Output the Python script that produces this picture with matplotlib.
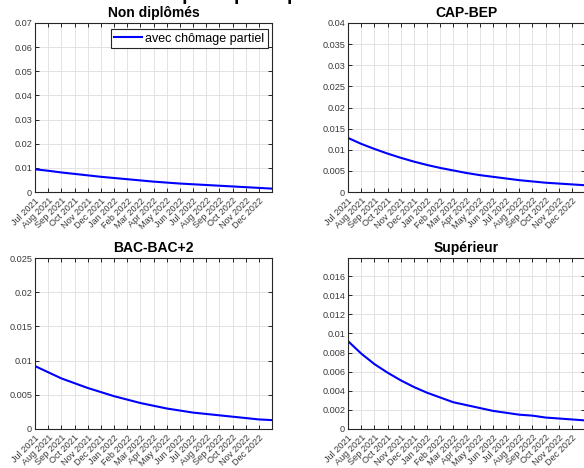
import matplotlib
matplotlib.use("Agg")
import matplotlib.pyplot as plt

plt.rcParams['font.family'] = ['Liberation Sans', 'DejaVu Sans']

months = ["Jul 2021", "Aug 2021", "Sep 2021", "Oct 2021", "Nov 2021", "Dec 2021",
          "Jan 2022", "Feb 2022", "Mar 2022", "Apr 2022", "May 2022", "Jun 2022",
          "Jul 2022", "Aug 2022", "Sep 2022", "Oct 2022", "Nov 2022", "Dec 2022"]

# 19 monthly points: Jul 2021 .. Jan 2023
non_diplomes = [0.0094, 0.0088, 0.0081, 0.0075, 0.0069, 0.0063, 0.0058, 0.0053, 0.0048,
                0.0043, 0.0039, 0.0035, 0.0032, 0.0029, 0.0026, 0.0023, 0.0020, 0.0017, 0.0014]
cap_bep = [0.0128, 0.0114, 0.0102, 0.0091, 0.0081, 0.0072, 0.0064, 0.0057, 0.0051,
           0.0045, 0.0040, 0.0036, 0.0032, 0.0028, 0.0025, 0.0022, 0.0020, 0.0018, 0.0016]
bac_bac2 = [0.0092, 0.0083, 0.0074, 0.0067, 0.0060, 0.0054, 0.0048, 0.0043, 0.0038,
            0.0034, 0.0030, 0.0027, 0.0024, 0.0022, 0.0020, 0.0018, 0.0016, 0.0014, 0.0013]
superieur = [0.0092, 0.0079, 0.0068, 0.0059, 0.0051, 0.0044, 0.0038, 0.0033, 0.0028,
             0.0025, 0.0022, 0.0019, 0.0017, 0.0015, 0.0014, 0.0012, 0.0011, 0.0010, 0.0009]

titles = ["Non diplômés", "CAP-BEP", "BAC-BAC+2", "Supérieur"]
series = [non_diplomes, cap_bep, bac_bac2, superieur]
ylims = [(0, 0.07), (0, 0.04), (0, 0.025), (0, 0.0179)]
ysteps = [0.01, 0.005, 0.005, 0.002]
legend_label = "avec chômage partiel"

W, H = 584, 468
fig = plt.figure(figsize=(W / 100, H / 100), dpi=100)

boxes = [(35, 23, 272, 192), (348, 23, 585, 192),
         (35, 258, 272, 429), (348, 258, 585, 429)]

axc = '#262626'
lblc = '#3a3a3a'
for i, (x0, y0, x1, y1) in enumerate(boxes):
    ax = fig.add_axes([x0 / W, (H - y1) / H, (x1 - x0) / W, (y1 - y0) / H])
    xs = list(range(len(series[i])))
    ax.plot(xs, series[i], color=(0, 0, 1), lw=1.5, label=legend_label)
    ax.set_xlim(0, len(series[i]) - 1)
    ax.set_ylim(*ylims[i])
    lo, hi = ylims[i]
    st = ysteps[i]
    n = int(hi / st + 1e-6)
    yt = [round(k * st, 6) for k in range(n + 1)]
    ax.set_yticks(yt)
    ax.set_yticklabels([('%g' % v) for v in yt])
    ax.set_xticks(range(len(months)))
    ax.set_xticklabels(months, rotation=45, ha='right', rotation_mode='anchor')
    ax.tick_params(direction='in', length=3, width=0.7, color=axc, labelcolor=lblc,
                   labelsize=6.6, top=True, right=True, pad=2)
    ax.tick_params(axis='x', pad=3)
    for sp in ax.spines.values():
        sp.set_color(axc)
        sp.set_linewidth(0.8)
    ax.grid(True, color='#e3e3e3', lw=0.7)
    ax.set_axisbelow(True)
    ax.set_title(titles[i], fontsize=10, fontweight='bold', pad=4)
    if i == 0:
        leg = ax.legend(loc='upper right', bbox_to_anchor=(0.983, 0.9645),
                        borderaxespad=0, fontsize=9, frameon=True, fancybox=False,
                        handlelength=2.2, handletextpad=0.25, borderpad=0.3)
        leg.get_frame().set_edgecolor(axc)
        leg.get_frame().set_linewidth(0.8)
        leg.get_frame().set_alpha(1)

fig.text(0.32, 1.0, "Probabilité de reprise par diplôme", fontsize=14,
         fontweight='bold', ha='center', va='baseline')

fig.savefig("out.png", dpi=100)
